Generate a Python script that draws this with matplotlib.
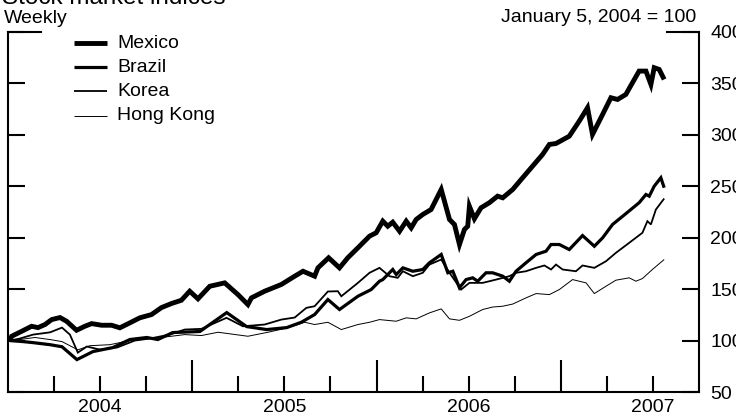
import matplotlib
matplotlib.use("Agg")
import matplotlib.pyplot as plt
from matplotlib.lines import Line2D
from matplotlib.ticker import FixedLocator, FuncFormatter

plt.rcParams['font.family'] = ['Liberation Sans', 'DejaVu Sans']

# ---------------- data (decimal years, index Jan 5 2004 = 100) ----------------
mexico_t = [2004.011, 2004.020, 2004.074, 2004.128, 2004.163, 2004.201, 2004.237, 2004.282,
            2004.318, 2004.372, 2004.417, 2004.454, 2004.508, 2004.562, 2004.607, 2004.661,
            2004.715, 2004.779, 2004.833, 2004.887, 2004.941, 2004.986, 2005.031, 2005.095,
            2005.176, 2005.248, 2005.302, 2005.321, 2005.393, 2005.483, 2005.556, 2005.601,
            2005.664, 2005.682, 2005.740, 2005.799, 2005.844, 2005.899, 2005.962, 2005.998,
            2006.034, 2006.061, 2006.088, 2006.125, 2006.161, 2006.188, 2006.215, 2006.251,
            2006.296, 2006.351, 2006.396, 2006.423, 2006.450, 2006.477, 2006.495, 2006.504,
            2006.531, 2006.567, 2006.612, 2006.657, 2006.685, 2006.739, 2006.793, 2006.847,
            2006.901, 2006.938, 2006.974, 2007.046, 2007.100, 2007.145, 2007.172, 2007.227,
            2007.272, 2007.308, 2007.353, 2007.389, 2007.425, 2007.462, 2007.489, 2007.507,
            2007.534, 2007.561]
mexico_v = [100.0, 104.2, 109.0, 113.9, 112.6, 115.6, 120.4, 122.4,
            118.8, 110.0, 113.9, 116.5, 114.9, 114.9, 112.4, 117.2,
            122.1, 125.3, 132.1, 136.0, 139.2, 148.0, 140.6, 152.8,
            156.1, 144.7, 135.0, 141.5, 148.0, 154.5, 162.6, 167.4,
            162.6, 170.7, 180.5, 170.7, 180.5, 190.2, 201.5, 204.8,
            216.1, 211.2, 215.1, 206.3, 216.1, 209.6, 217.7, 222.6,
            227.4, 246.9, 217.7, 212.8, 193.4, 208.0, 211.2, 230.6,
            218.4, 229.1, 234.0, 240.4, 238.8, 246.9, 258.3, 269.6,
            280.9, 290.7, 291.6, 298.7, 313.3, 326.4, 300.4, 319.9,
            336.1, 334.4, 339.3, 350.7, 362.0, 362.0, 349.0, 365.3,
            363.6, 353.9]

brazil_t = [2004.011, 2004.081, 2004.136, 2004.228, 2004.293, 2004.374, 2004.461, 2004.569,
            2004.661, 2004.753, 2004.813, 2004.894, 2005.041, 2005.187, 2005.295, 2005.404,
            2005.512, 2005.592, 2005.664, 2005.736, 2005.799, 2005.899, 2005.971, 2006.016,
            2006.034, 2006.088, 2006.107, 2006.143, 2006.197, 2006.251, 2006.287, 2006.351,
            2006.387, 2006.414, 2006.450, 2006.486, 2006.522, 2006.549, 2006.594, 2006.630,
            2006.685, 2006.721, 2006.757, 2006.811, 2006.866, 2006.920, 2006.947, 2006.992,
            2007.046, 2007.118, 2007.182, 2007.227, 2007.281, 2007.353, 2007.425, 2007.462,
            2007.480, 2007.507, 2007.543, 2007.561]
brazil_v = [100.0, 99.0, 98.0, 96.0, 94.0, 81.5, 89.3, 93.2,
            101.0, 103.0, 101.0, 107.8, 108.8, 127.2, 113.6, 110.7,
            112.6, 117.8, 125.3, 139.9, 130.2, 143.1, 149.6, 157.7,
            159.3, 169.1, 164.2, 170.7, 167.4, 169.1, 175.6, 183.7,
            165.9, 167.4, 151.3, 159.3, 161.0, 157.7, 165.9, 165.9,
            162.6, 157.7, 167.4, 175.6, 183.7, 186.9, 193.4, 193.4,
            188.5, 202.1, 191.7, 199.9, 212.9, 223.4, 234.0, 242.0,
            240.4, 250.1, 258.3, 248.6]

korea_t = [2004.011, 2004.065, 2004.136, 2004.228, 2004.293, 2004.336, 2004.379, 2004.428,
           2004.499, 2004.591, 2004.688, 2004.770, 2004.878, 2004.959, 2005.050, 2005.186,
           2005.275, 2005.393, 2005.483, 2005.556, 2005.619, 2005.664, 2005.736, 2005.790,
           2005.809, 2005.899, 2005.962, 2006.016, 2006.070, 2006.115, 2006.143, 2006.197,
           2006.251, 2006.287, 2006.351, 2006.396, 2006.459, 2006.504, 2006.576, 2006.649,
           2006.721, 2006.757, 2006.811, 2006.866, 2006.911, 2006.947, 2006.974, 2007.010,
           2007.082, 2007.118, 2007.182, 2007.245, 2007.299, 2007.371, 2007.443, 2007.470,
           2007.489, 2007.516, 2007.561]
korea_v = [100.0, 102.0, 105.8, 108.0, 112.6, 105.8, 88.3, 94.2,
           91.2, 93.2, 100.0, 102.0, 105.8, 110.7, 111.4, 122.1,
           113.9, 115.6, 120.4, 122.4, 131.8, 133.4, 147.7, 148.0,
           143.1, 156.1, 165.9, 170.7, 162.6, 161.0, 167.4, 162.6,
           165.9, 173.9, 178.8, 165.9, 149.6, 156.1, 156.1, 159.3,
           162.6, 165.9, 167.4, 170.7, 173.0, 169.1, 173.9, 169.1,
           167.4, 173.0, 170.7, 177.1, 185.3, 195.0, 204.8, 216.1,
           212.9, 227.4, 238.1]

hongkong_t = [2004.011, 2004.065, 2004.146, 2004.228, 2004.293, 2004.379, 2004.444, 2004.553,
              2004.661, 2004.770, 2004.878, 2004.959, 2005.050, 2005.140, 2005.302, 2005.411,
              2005.519, 2005.610, 2005.664, 2005.736, 2005.809, 2005.899, 2005.962, 2006.016,
              2006.107, 2006.161, 2006.215, 2006.287, 2006.351, 2006.396, 2006.450, 2006.504,
              2006.576, 2006.630, 2006.685, 2006.739, 2006.811, 2006.866, 2006.938, 2006.992,
              2007.064, 2007.100, 2007.137, 2007.182, 2007.245, 2007.299, 2007.371, 2007.408,
              2007.443, 2007.497, 2007.561]
hongkong_v = [100.0, 101.0, 103.0, 101.0, 99.0, 91.0, 95.0, 96.0,
              100.0, 102.0, 104.0, 105.8, 104.9, 108.1, 104.2, 108.1,
              112.4, 117.8, 115.6, 117.8, 110.7, 115.6, 117.8, 120.4,
              118.8, 122.1, 121.1, 126.9, 130.8, 121.1, 119.7, 123.6,
              130.2, 132.6, 133.4, 135.5, 141.5, 145.7, 144.7, 149.6,
              159.3, 157.7, 156.1, 145.7, 152.8, 158.7, 161.0, 157.7,
              160.3, 169.1, 178.8]

series_names = ["Mexico", "Brazil", "Korea", "Hong Kong"]
year_labels = ["2004", "2005", "2006", "2007"]
y_ticks = [50, 100, 150, 200, 250, 300, 350, 400]

# ---------------- figure ----------------
W, H = 736, 419
FS = 14
fig = plt.figure(figsize=(W / 100, H / 100), dpi=100)
ax = fig.add_axes([8 / W, 1 - 392 / H, (699 - 8) / W, (392 - 32) / H])

widths = [3.5, 2.3, 1.3, 0.7]
data = [(mexico_t, mexico_v), (brazil_t, brazil_v), (korea_t, korea_v), (hongkong_t, hongkong_v)]
for (t, v), lw in reversed(list(zip(data, widths))):
    ax.plot(t, v, color='black', lw=lw, solid_joinstyle='miter', solid_capstyle='butt')

ax.set_xlim(2004.0, 2007.75)
ax.set_ylim(50, 400)

SW = 1.5
for s in ['left', 'right', 'bottom']:
    ax.spines[s].set_linewidth(SW)
ax.spines['top'].set_visible(False)

ax.set_yticks(y_ticks)
ax.tick_params(axis='y', which='major', left=True, right=True, labelleft=False,
               labelright=True, direction='in', length=12.2, width=SW,
               labelsize=FS, pad=8)

ax.xaxis.set_major_locator(FixedLocator([2005, 2006, 2007]))
ax.xaxis.set_major_formatter(FuncFormatter(lambda x, p: ""))
minor_pos = [2004.25, 2004.5, 2004.75, 2005.25, 2005.5, 2005.75,
             2006.25, 2006.5, 2006.75, 2007.25, 2007.5]
ax.xaxis.set_minor_locator(FixedLocator(minor_pos))
lab_map = {2004.5: year_labels[0], 2005.5: year_labels[1],
           2006.5: year_labels[2], 2007.5: year_labels[3]}
ax.xaxis.set_minor_formatter(FuncFormatter(lambda x, p: lab_map.get(round(x, 2), "")))
ax.tick_params(axis='x', which='major', direction='in', length=23, width=SW, bottom=True, top=False)
ax.tick_params(axis='x', which='minor', direction='in', length=11.5, width=SW,
               bottom=True, top=False, labelsize=FS, pad=5)

ax.plot([0, 33 / 691], [1, 1], transform=ax.transAxes, color='black', lw=SW, clip_on=False,
        solid_capstyle='projecting')
ax.plot([1 - 32 / 691, 1], [1, 1], transform=ax.transAxes, color='black', lw=SW, clip_on=False,
        solid_capstyle='projecting')

leg_y = [43, 67, 91, 116]
for name, lw, yy in zip(series_names, widths, leg_y):
    fig.add_artist(Line2D([74 / W, 107 / W], [1 - yy / H, 1 - yy / H], color='black', lw=lw,
                          solid_capstyle='butt'))
    fig.text(117 / W, 1 - yy / H, name, fontsize=FS, va='center', ha='left')

fig.text(2 / W, 1 - 4 / H, "Stock market indices", fontsize=17.5, va='baseline', ha='left')
fig.text(4 / W, 1 - 23 / H, "Weekly", fontsize=FS, va='baseline', ha='left')
fig.text(696 / W, 1 - 22 / H, "January 5, 2004 = 100", fontsize=FS, va='baseline', ha='right')

fig.savefig("out.png", dpi=100)
